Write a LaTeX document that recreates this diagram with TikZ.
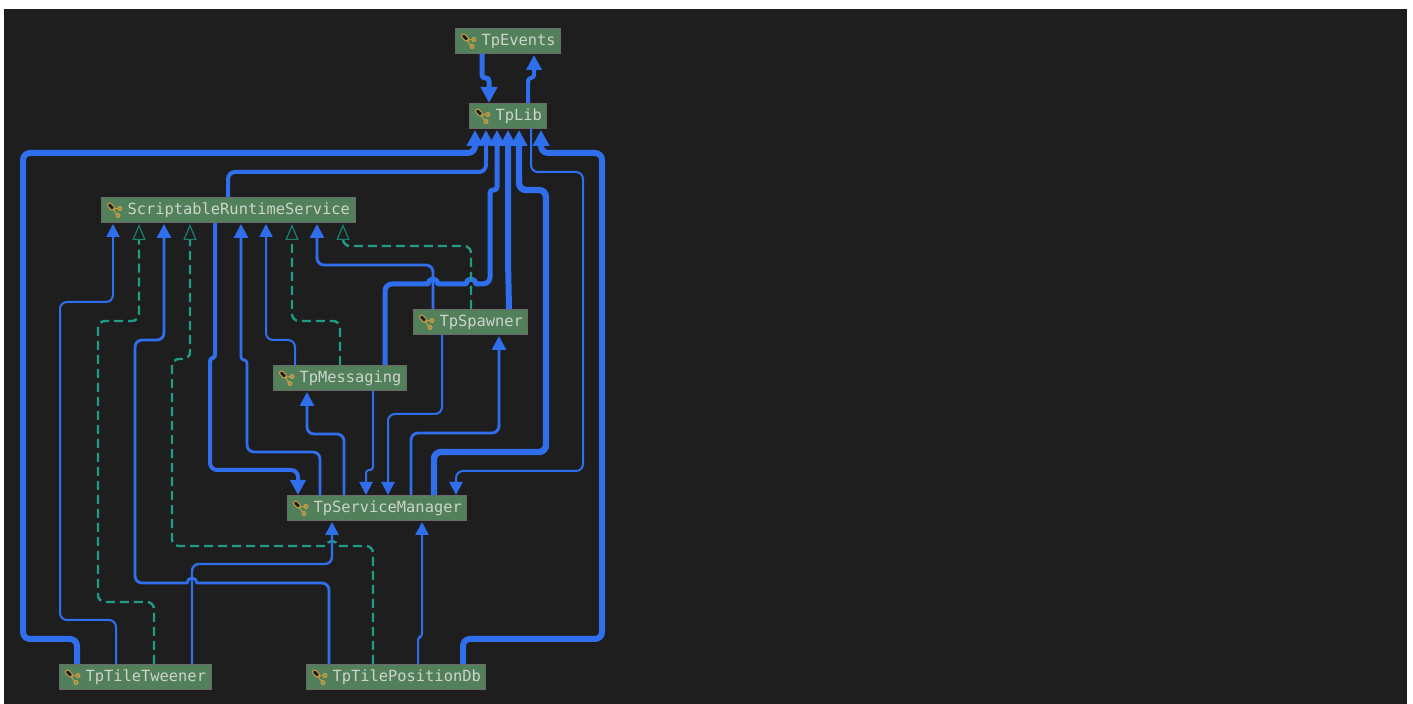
\documentclass[tikz,border=0pt]{standalone}
\usepackage{fontspec}
\usepackage{xcolor}
\usepackage{tikz}
\usetikzlibrary{arrows.meta, calc}
\setmonofont{DejaVu Sans Mono}
\definecolor{canvas}{HTML}{1E1E1E}
\definecolor{modfill}{HTML}{52805A}
\definecolor{modline}{HTML}{6A6A6A}
\definecolor{modtext}{HTML}{CCD4CC}
\definecolor{uses}{HTML}{2F6FED}
\definecolor{impl}{HTML}{1F9C85}
\definecolor{implhead}{HTML}{1A7F6E}
\definecolor{keygold}{HTML}{D0A040}
\tikzset{
  module/.style={draw=modline, line width=0.5pt, fill=modfill, text=modtext, anchor=north west,
    font=\ttfamily\fontsize{7.7}{9}\selectfont, inner xsep=2.5pt, inner ysep=0pt,
    minimum height=12.5pt, text height=6pt, text depth=1.5pt,
    execute at begin node=\hspace*{10.5pt}},
  edge/.style={draw=uses, rounded corners=3.5pt, line join=round},
  edgeA/.style={edge, line width=1pt, -{Triangle[width=6.5pt, length=6.5pt]}},
  edgeB/.style={edge, line width=1.4pt, -{Triangle[width=7pt, length=7pt]}},
  edgeC/.style={edge, line width=2pt, -{Triangle[width=7.5pt, length=7.5pt]}},
  edgeD/.style={edge, line width=2.5pt, -{Triangle[width=8pt, length=8pt]}},
  edgeE/.style={edge, line width=3pt, -{Triangle[width=8pt, length=8pt]}},
  realize/.style={draw=impl, line width=1.2pt, rounded corners=3.5pt, dash pattern=on 4.5pt off 2.5pt,
    -{Triangle[open, width=6.5pt, length=8pt, fill=canvas, color=implhead, line width=0.6pt]}},
  modicon/.pic={
    \draw[keygold, line width=2.5pt, line cap=round] (-5.5,-5) -- (-2.5,-2);
    \draw[canvas, line width=1.5pt, line cap=round] (-5.5,-5) -- (-2.5,-2);
    \draw[keygold, line width=0.45pt] (-2,-1) -- (4,-1.5) (-2,-1) -- (2,5);
    \draw[keygold, line width=0.45pt, fill=modfill!50!keygold] (5,-1.5) circle[radius=2] (3,5.5) circle[radius=2];
  },
}
\begin{document}
\begin{tikzpicture}[x=0.5pt, y=-0.5pt]
% page and dark canvas
\useasboundingbox (0,0) rectangle (1413,704);
\fill[white] (0,0) rectangle (1413,704);
\fill[canvas] (4,9) rectangle (1407,704);
% modules
\foreach \name/\nx/\ny in {
    TpEvents/455/28, TpLib/469/103, ScriptableRuntimeService/101/197, TpSpawner/413/309,
    TpMessaging/273/365, TpServiceManager/287/495, TpTileTweener/59/664, TpTilePositionDb/306/664}{
    \node[module] (\name) at (\nx,\ny) {\name};
    \pic at ($(\name.west)+(14,0)$) {modicon};
}
% TpEvents and TpLib
\draw[edgeD, rounded corners=1.5pt] ($(TpEvents.south west)+(27,0)$) -- (482,78) -- (489,78) -- ($(TpLib.north west)+(20,0)$);
\draw[edgeC, rounded corners=1.5pt] ($(TpLib.north west)+(59,0)$) -- (528,78) -- (534,78) -- ($(TpEvents.south west)+(79,1)$);
% into TpLib
\draw[edgeE] ($(TpTileTweener.north west)+(18,0)$) -- (77,639) -- (23,639) -- (23,153) -- (475,153) -- ($(TpLib.south west)+(6,1)$);
\draw[edgeC] ($(ScriptableRuntimeService.north west)+(127,0)$) -- (228,172) -- (486,172) -- ($(TpLib.south west)+(17,1)$);
\draw[edgeD] ($(TpMessaging.north west)+(112,0)$) -- (385,284) [sharp corners] -- (428,284) arc[start angle=180, end angle=360, radius=5]
    -- (466,284) arc[start angle=180, end angle=360, radius=5] -- (478,284) [rounded corners=3.5pt] -- (490,284) [rounded corners=1.5pt] -- (490,190) -- (497,190) -- ($(TpLib.south west)+(28,1)$);
\draw[edgeE] ($(TpSpawner.north west)+(96,0)$) -- (508,260) -- ($(TpLib.south west)+(39,1)$);
\draw[edgeE, line width=3.2pt] ($(TpServiceManager.north west)+(147,0)$) -- (434,452) -- (546,452) -- (546,190) -- (519,190) -- ($(TpLib.south west)+(50,1)$);
\draw[edgeE] ($(TpTilePositionDb.north west)+(157,0)$) -- (463,639) -- (602,639) -- (602,153) -- (541,153) -- ($(TpLib.south west)+(72,1)$);
% out of TpLib
\draw[edgeA] ($(TpLib.south west)+(62,0)$) -- (531,172) -- (583,172) -- (583,471) -- (456,471) -- ($(TpServiceManager.north west)+(169,0)$);
% into ScriptableRuntimeService
\draw[edgeA] ($(TpTileTweener.north west)+(57,0)$) -- (116,620) -- (60,620) -- (60,302) -- (113,302) -- ($(ScriptableRuntimeService.south west)+(12,1)$);
\draw[realize] ($(TpTileTweener.north west)+(95,0)$) -- (154,602) -- (98,602) -- (98,321) -- (139,321) -- ($(ScriptableRuntimeService.south west)+(38,1)$);
\draw[edgeB] ($(TpTilePositionDb.north west)+(23,0)$) -- (329,583) [sharp corners] -- (197,583) arc[start angle=0, end angle=-180, radius=5] -- (160,583) [rounded corners=3.5pt] -- (135,583) -- (135,340) -- (164,340) -- ($(ScriptableRuntimeService.south west)+(63,1)$);
\draw[realize] ($(TpTilePositionDb.north west)+(67,0)$) -- (373,546) [sharp corners] -- (337,546) arc[start angle=0, end angle=-180, radius=5] -- (300,546) [rounded corners=3.5pt] -- (172,546) -- (172,359) -- (190,359) -- ($(ScriptableRuntimeService.south west)+(89,1)$);
\draw[edgeB, rounded corners=1.5pt] ($(TpServiceManager.north west)+(33,0)$) [rounded corners=3.5pt] -- (320,452) -- (247,452) [rounded corners=1.5pt] -- (247,360) -- (241,360) -- ($(ScriptableRuntimeService.south west)+(140,1)$);
\draw[edgeA] ($(TpMessaging.north west)+(22,0)$) -- (295,340) -- (266,340) -- ($(ScriptableRuntimeService.south west)+(165,1)$);
\draw[realize] ($(TpMessaging.north west)+(67,0)$) -- (340,321) -- (292,321) -- ($(ScriptableRuntimeService.south west)+(191,1)$);
\draw[edgeB] ($(TpSpawner.north west)+(20,0)$) -- (433,265) -- (317,265) -- ($(ScriptableRuntimeService.south west)+(216,1)$);
\draw[realize] ($(TpSpawner.north west)+(58,0)$) -- (471,246) -- (343,246) -- ($(ScriptableRuntimeService.south west)+(242,1)$);
% TpServiceManager
\draw[edgeC] ($(ScriptableRuntimeService.south west)+(114,0)$) [rounded corners=1.5pt] -- (215,358) -- (210,358) [rounded corners=3.5pt] -- (210,470) -- (298,470) -- ($(TpServiceManager.north west)+(11,0)$);
\draw[edgeB] ($(TpServiceManager.north west)+(57,0)$) -- (344,434) -- (307,434) -- ($(TpMessaging.south west)+(34,1)$);
\draw[edgeA, rounded corners=1.5pt] ($(TpMessaging.south west)+(100,0)$) -- (373,470) -- (366,470) -- ($(TpServiceManager.north west)+(79,0)$);
\draw[edgeA] ($(TpSpawner.south west)+(29,0)$) -- (442,414) -- (388,414) -- ($(TpServiceManager.north west)+(101,0)$);
\draw[edgeB] ($(TpServiceManager.north west)+(124,0)$) -- (411,433) -- (499,433) -- ($(TpSpawner.south west)+(86,1)$);
\draw[edgeA, line width=1.2pt] ($(TpTileTweener.north west)+(133,0)$) -- (192,564) -- (332,564) -- ($(TpServiceManager.south west)+(45,1)$);
\draw[edgeA, rounded corners=1.5pt] ($(TpTilePositionDb.north west)+(112,0)$) -- (418,637) -- (422,637) -- ($(TpServiceManager.south west)+(135,1)$);
\end{tikzpicture}
\end{document}
